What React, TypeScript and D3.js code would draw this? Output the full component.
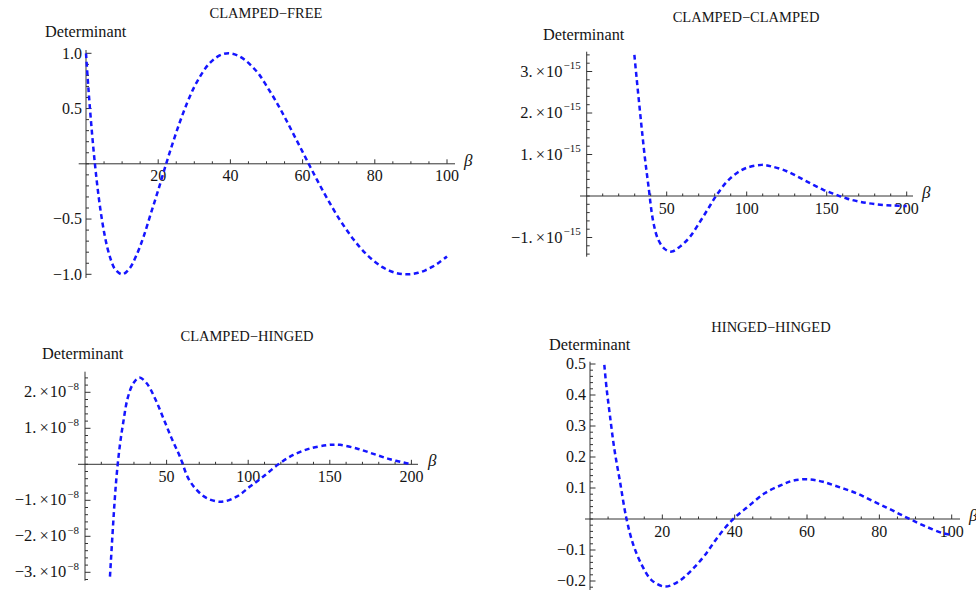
import React from "react";
import * as d3 from "d3";

const W = 976;
const H = 592;
const FONT = "'Liberation Serif', 'Times New Roman', serif";
const BLUE = "#1515ff";
const INK = "#151515";
const MINUS = "\u2212";

// CLAMPED-FREE
const cfBeta = [0, 0.5, 1, 2, 3, 4, 5, 6, 7, 8, 10, 12, 14, 16, 18, 20, 22, 24, 26, 28, 30, 32, 34, 36, 38, 40, 42, 44, 46, 48, 50, 52, 54, 56, 58, 60, 62, 64, 66, 68, 70, 72, 74, 76, 78, 80, 82, 84, 86, 88, 90, 92, 94, 96, 98, 100];
const cfDet = [1, 0.76, 0.54, 0.156, -0.161, -0.416, -0.617, -0.77, -0.879, -0.951, -1.0, -0.95, -0.826, -0.654, -0.446, -0.239, -0.022, 0.185, 0.378, 0.55, 0.696, 0.812, 0.902, 0.96, 0.993, 0.999, 0.98, 0.941, 0.881, 0.807, 0.705, 0.6, 0.485, 0.362, 0.235, 0.108, -0.02, -0.146, -0.267, -0.382, -0.491, -0.589, -0.68, -0.76, -0.829, -0.886, -0.933, -0.967, -0.989, -0.999, -0.998, -0.986, -0.964, -0.931, -0.889, -0.839];

// CLAMPED-CLAMPED (units of 1e-15)
const ccBeta = [29.8, 31.2, 32.9, 34.6, 36.4, 38.5, 41.6, 44.8, 48.9, 53.1, 58.3, 64.6, 70.8, 76, 80.8, 87.5, 93.7, 100, 109.4, 114.6, 122.9, 131.2, 139.6, 147.9, 155.2, 162.5, 170.8, 181.2, 191.6, 200];
const ccDet = [3.4, 2.84, 2.19, 1.55, 0.91, 0.27, -0.62, -1.06, -1.28, -1.34, -1.22, -0.98, -0.62, -0.3, 0, 0.34, 0.55, 0.68, 0.75, 0.72, 0.63, 0.48, 0.31, 0.15, 0.04, -0.06, -0.14, -0.2, -0.23, -0.24];

// CLAMPED-HINGED (units of 1e-8)
const chBeta = [15.3, 16.7, 18, 19.4, 21.4, 23.5, 26.1, 29.6, 33.3, 37.8, 42.9, 48, 53.1, 58.2, 63.3, 68.4, 74.6, 83.7, 92.9, 101.1, 109.3, 118.5, 127.6, 137.9, 148.1, 152, 156.3, 166.5, 176.7, 186.9, 197.1, 200];
const chDet = [-3.12, -2.06, -1.13, -0.3, 0.54, 1.18, 1.83, 2.25, 2.41, 2.25, 1.83, 1.28, 0.72, 0.21, -0.39, -0.71, -0.94, -1.04, -0.9, -0.62, -0.34, 0, 0.26, 0.44, 0.53, 0.545, 0.54, 0.44, 0.29, 0.14, 0.03, 0];

// HINGED-HINGED
const hhBeta = [3.96, 4.6, 5.5, 6.7, 8.3, 10.1, 12, 14.3, 17, 20.7, 24.4, 28.1, 31.8, 35.4, 39.6, 43.7, 48.3, 53, 56.2, 60.3, 64.4, 69.1, 73.7, 77.8, 82, 85.6, 88.9, 93, 97.6, 99.5];
const hhDet = [0.497, 0.42, 0.335, 0.228, 0.12, 0, -0.084, -0.148, -0.197, -0.218, -0.202, -0.165, -0.116, -0.057, 0, 0.04, 0.083, 0.11, 0.124, 0.128, 0.12, 0.102, 0.083, 0.06, 0.037, 0.016, -0.003, -0.025, -0.046, -0.05];

// tick labels
const cfXTicks = [20, 40, 60, 80, 100];
const cfYTicks = [-1, -0.5, 0.5, 1];
const ccXTicks = [50, 100, 150, 200];
const ccYTicks = [-1, 1, 2, 3];
const chXTicks = [50, 100, 150, 200];
const chYTicks = [-3, -2, -1, 1, 2];
const hhXTicks = [20, 40, 60, 80, 100];
const hhYTicks = [-0.2, -0.1, 0.1, 0.2, 0.3, 0.4, 0.5];

type Cfg = {
  title: string;
  titleX: number;
  titleY: number;
  detX: number;
  detY: number;
  xDomain: [number, number];
  xRange: [number, number];
  yDomain: [number, number];
  yRange: [number, number];
  xLine: [number, number];
  yLine: [number, number];
  xTicks: number[];
  xMinor: number[];
  yTicks: number[];
  yMinor: number[];
  yDigits: number;
  exp?: string;
  beta: number[];
  det: number[];
  betaX: number;
};

const panels: Cfg[] = [
  {
    title: "CLAMPED\u2212FREE", titleX: 266, titleY: 18, detX: 45, detY: 37,
    xDomain: [0, 100], xRange: [86, 447], yDomain: [-1, 1], yRange: [274.3, 53.3],
    xLine: [78.7, 455], yLine: [278, 50],
    xTicks: cfXTicks, xMinor: d3.range(5, 101, 5), yTicks: cfYTicks, yMinor: d3.range(-10, 11).map((d) => d / 10),
    yDigits: 1, beta: cfBeta, det: cfDet, betaX: 464,
  },
  {
    title: "CLAMPED\u2212CLAMPED", titleX: 746, titleY: 22, detX: 543, detY: 40,
    xDomain: [0, 200], xRange: [586.7, 906.7], yDomain: [-1, 3], yRange: [237.5, 71.5],
    xLine: [580, 913], yLine: [256.7, 51.7],
    xTicks: ccXTicks, xMinor: d3.range(10, 201, 10), yTicks: ccYTicks, yMinor: d3.range(-7, 18).map((d) => d / 5),
    yDigits: 0, exp: "15", beta: ccBeta, det: ccDet, betaX: 922,
  },
  {
    title: "CLAMPED\u2212HINGED", titleX: 247, titleY: 341, detX: 42, detY: 359,
    xDomain: [0, 200], xRange: [85, 411.4], yDomain: [-3, 2], yRange: [572.3, 392.3],
    xLine: [78, 418], yLine: [580.7, 371.7],
    xTicks: chXTicks, xMinor: d3.range(10, 201, 10), yTicks: chYTicks, yMinor: d3.range(-16, 13).map((d) => d / 5),
    yDigits: 0, exp: "8", beta: chBeta, det: chDet, betaX: 428,
  },
  {
    title: "HINGED\u2212HINGED", titleX: 771, titleY: 332, detX: 549, detY: 350,
    xDomain: [0, 100], xRange: [590, 951.7], yDomain: [-0.2, 0.5], yRange: [581, 364],
    xLine: [585, 960], yLine: [590, 361.7],
    xTicks: hhXTicks, xMinor: d3.range(5, 101, 5), yTicks: hhYTicks, yMinor: d3.range(-11, 26).map((d) => d / 50),
    yDigits: 1, beta: hhBeta, det: hhDet, betaX: 969,
  },
];

function signed(v: number, digits: number) {
  return (v < 0 ? MINUS : "") + Math.abs(v).toFixed(digits);
}

function Panel({ c }: { c: Cfg }) {
  const x = d3.scaleLinear().domain(c.xDomain).range(c.xRange);
  const y = d3.scaleLinear().domain(c.yDomain).range(c.yRange);
  const x0 = x(0);
  const y0 = y(0);
  const pts = c.beta.map((b, i) => [b, c.det[i]] as [number, number]);
  const path = d3
    .line<[number, number]>()
    .x((d) => x(d[0]))
    .y((d) => y(d[1]))
    .curve(d3.curveCatmullRom.alpha(0.5))(pts);

  const isMajorX = (v: number) => c.xTicks.some((t) => Math.abs(t - v) < 1e-6);
  const isMajorY = (v: number) => c.yTicks.some((t) => Math.abs(t - v) < 1e-6);

  return (
    <g>
      <text x={c.titleX} y={c.titleY} textAnchor="middle" fontSize={14.5} fill={INK}>
        {c.title}
      </text>
      <text x={c.detX} y={c.detY} fontSize={16.3} fill={INK}>
        Determinant
      </text>

      {/* axes */}
      <line x1={c.xLine[0]} x2={c.xLine[1]} y1={y0} y2={y0} stroke="#333" strokeWidth={1} />
      <line x1={x0} x2={x0} y1={c.yLine[0]} y2={c.yLine[1]} stroke="#333" strokeWidth={1} />

      {c.xMinor.map((v) => (
        <line key={"xm" + v} x1={x(v)} x2={x(v)} y1={y0} y2={y0 - (isMajorX(v) ? 4.5 : 2.5)} stroke="#333" strokeWidth={1} />
      ))}
      {c.yMinor.map((v) => (
        <line key={"ym" + v} x1={x0} x2={x0 + (isMajorY(v) ? 5.5 : 3)} y1={y(v)} y2={y(v)} stroke="#333" strokeWidth={1} />
      ))}

      {c.xTicks.map((v) => (
        <text key={"xt" + v} x={x(v)} y={y0 + 17.5} textAnchor="middle" fontSize={16} fill={INK}>
          {v}
        </text>
      ))}
      {c.yTicks.map((v) =>
        c.exp ? (
          <text key={"yt" + v} x={x0 - 6} y={y(v) + 5} textAnchor="end" fontSize={16.5} fill={INK}>
            {signed(v, 0) + "."}
            <tspan dx={3}>×</tspan>
            <tspan dx={1}>10</tspan>
            <tspan dy={-7.7} dx={1} fontSize={11}>{MINUS + c.exp}</tspan>
          </text>
        ) : (
          <text key={"yt" + v} x={x0 - 4} y={y(v) + 5.3} textAnchor="end" fontSize={16} fill={INK}>
            {signed(v, c.yDigits)}
          </text>
        )
      )}

      <text x={c.betaX} y={y0 + 2} fontSize={17} fontStyle="italic" fill={INK}>
        β
      </text>

      <path d={path ?? ""} fill="none" stroke={BLUE} strokeWidth={2.5} strokeDasharray="5,3.5" />
    </g>
  );
}

export default function App() {
  return (
    <svg
      width={W}
      height={H}
      style={{ position: "absolute", left: 0, top: 0, background: "#fff", fontFamily: FONT }}
    >
      <rect width={W} height={H} fill="#fff" />
      {panels.map((c) => (
        <Panel key={c.title} c={c} />
      ))}
    </svg>
  );
}
